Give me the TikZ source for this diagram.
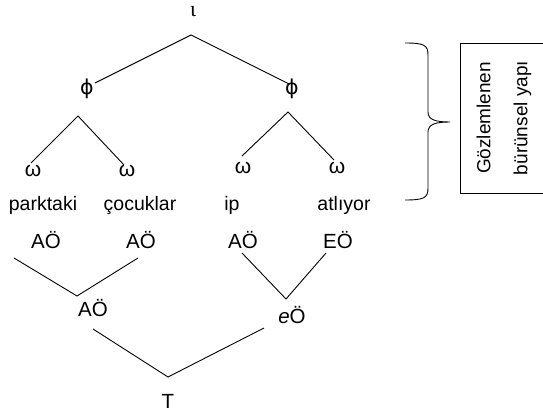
\documentclass[tikz,border=0pt]{standalone}
\usepackage{fontspec}
\setmainfont{Liberation Sans}
\newfontfamily\greekserif{Liberation Serif}
\newfontfamily\greeksans{DejaVu Sans}
\usepackage{tikz}
\usetikzlibrary{calc,positioning}
\tikzset{
myLabel/.style={
	inner sep=0pt, anchor=base, text=black,
	font=\fontsize{19.5}{22}\selectfont
}
, myTone/.style={myLabel, font=\fontsize{20.5}{22}\selectfont}
, myOmega/.style={myLabel, font=\fontsize{21}{22}\selectfont}
, myPhi/.style={myLabel, font=\greeksans\fontsize{20.5}{22}\selectfont}
, myLink/.style={draw=black, line width=0.9pt}
, myBox/.style={
	draw, line width=0.9pt, rotate=90,
	minimum width=150pt, minimum height=88pt,
	align=center, font=\fontsize{19}{37}\selectfont
}
}

\begin{document}
\begin{tikzpicture}[x=1pt,y=-1pt]
	\useasboundingbox (0,0) rectangle (543,414);
	\clip (0,0) rectangle (543,414);
	% nodes
	\node[myLabel] (Iota) at (193,17)  {\greekserif\fontsize{22}{24}\selectfont ι};
	\node[myPhi] (PhiL) at ( 87,95)  {ϕ};
	\node[myPhi] (PhiR) at (292,95)  {ϕ};
	\node[myOmega] (OmA)  at ( 33,177) {ω};
	\node[myOmega] (OmB)  at (127,177) {ω};
	\node[myOmega] (OmC)  at (243,174) {ω};
	\node[myOmega] (OmD)  at (337,174) {ω};
	% words
	\node[myLabel] (WordA) at ( 43,210) {parktaki};
	\node[myLabel] (WordB) at (140,210) {çocuklar};
	\node[myLabel] (WordC) at (232,210) {ip};
	\node[myLabel] (WordD) at (344,210) {atlıyor};
	% tones
	\node[myTone] (ToneA) at ( 46,248) {AÖ};
	\node[myTone] (ToneB) at (141,248) {AÖ};
	\node[myTone] (ToneC) at (243,248) {AÖ};
	\node[myTone] (ToneD) at (338,248) {EÖ};
	\node[myTone] (ToneL) at ( 93,316) {AÖ};
	\node[myTone] (ToneR) at (292,323) {\textit{e}Ö};
	\node[myTone] (Tune)  at (168,408) {T};
	% joints
	\coordinate (IotaJ) at (191,35);
	\coordinate (PhiLJ) at ( 78,116);
	\coordinate (PhiRJ) at (288,112);
	\coordinate (ToneLJ) at ( 77,296);
	\coordinate (ToneRJ) at (286,299);
	\coordinate (TuneJ)  at (168,377);
	% links
	\draw [myLink] (95,83) -- (IotaJ) -- (289,84);
	\draw [myLink] (31,163) -- (PhiLJ) -- (124,165);
	\draw [myLink] (242,156) -- (PhiRJ) -- (334,160);
	\draw [myLink] (14,258) -- (ToneLJ) -- (138,258);
	\draw [myLink] (242,253) -- (ToneRJ) -- (326,253);
	\draw [myLink] (93,329) -- (TuneJ) -- (264,328);
	% brace and box
	\coordinate (BraceTop) at (405,43);
	\coordinate (BraceTip) at (450,122);
	\coordinate (BraceBot) at (405,200);
	\draw [myLink] (BraceTop) .. controls (424,43) and (428,45) .. (428,55)
		-- (428,112) .. controls (428,120) and (436,122) .. (BraceTip)
		.. controls (436,122) and (428,124) .. (428,132)
		-- (428,188) .. controls (428,198) and (424,200) .. (BraceBot);
	\node[myBox] (ObsBox) at (504,118) {Gözlemlenen\\bürünsel yapı};
\end{tikzpicture}
\end{document}
